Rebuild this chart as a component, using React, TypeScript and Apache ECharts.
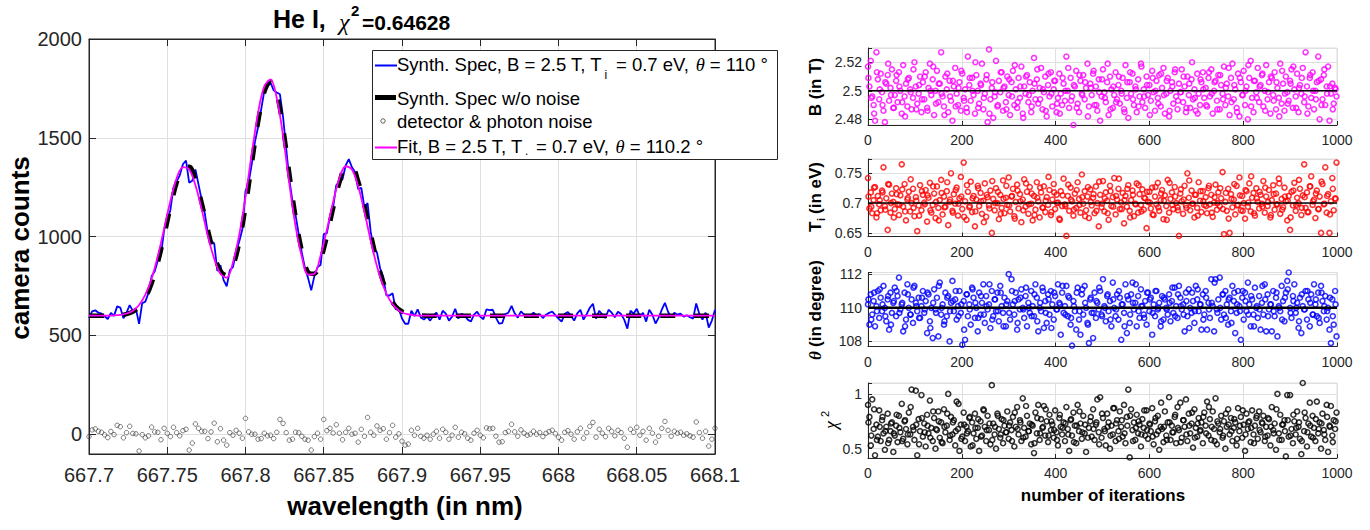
import React, { useEffect, useRef } from 'react';
import * as echarts from 'echarts';

// ---------------- Left panel: He I spectrum ----------------
const wlStart = 667.7;
const wlStep = 0.002; // detector pixel spacing (nm)

// synthetic spectrum with noise (camera counts), one value per pixel
const noisySpectrum = [
  588, 622, 627, 615, 610, 597, 583, 614, 599, 647,
  641, 587, 616, 653, 624, 633, 559, 663, 671, 715,
  799, 825, 879, 907, 1033, 1082, 1135, 1249, 1280, 1310,
  1366, 1385, 1273, 1283, 1340, 1263, 1186, 1118, 1012, 980,
  966, 826, 855, 780, 749, 830, 846, 925, 975, 1037,
  1230, 1272, 1367, 1478, 1553, 1643, 1736, 1762, 1780, 1740,
  1729, 1720, 1606, 1446, 1290, 1180, 1109, 1013, 918, 841,
  790, 728, 800, 845, 858, 1013, 1018, 1102, 1149, 1260,
  1278, 1290, 1360, 1392, 1351, 1327, 1240, 1247, 1147, 1170,
  1024, 938, 920, 840, 798, 703, 702, 713, 632, 634,
  586, 559, 559, 625, 598, 632, 591, 580, 595, 575,
  600, 615, 580, 625, 610, 575, 595, 635, 585, 610,
  602, 580, 570, 605, 620, 595, 582, 632, 628, 630,
  590, 560, 562, 608, 615, 650, 612, 590, 622, 605,
  595, 600, 615, 600, 608, 588, 605, 614, 620, 603,
  585, 570, 610, 618, 600, 575, 612, 630, 580, 608,
  640, 660, 585, 625, 605, 588, 630, 615, 592, 620,
  608, 580, 534, 625, 610, 635, 595, 615, 570, 630,
  605, 560, 590, 630, 665, 620, 590, 615, 605, 610,
  595, 602, 592, 585, 662, 608, 580, 615, 540, 575,
  630,
];

// detector & photon noise, one value per pixel
const detectorNoise = [
  -12, 22, 27, 15, 10, -3, -17, 14, -2, 45,
  38, -18, 8, 40, 4, 2, -85, -2, -18, -8,
  36, 12, 10, -28, 30, 5, -12, 35, 8, -8,
  18, 25, -80, -45, 52, 30, 15, 15, -22, 12,
  56, -38, 28, -30, -55, 8, -5, 20, 5, -20,
  80, 12, 0, 0, -25, -22, 5, -8, -5, -22,
  10, 75, 55, 8, -30, -25, 10, 8, -10, -25,
  -30, -80, -12, 5, -25, 75, 18, 30, 6, 48,
  5, -28, 10, 30, 0, 5, -40, 25, -10, 85,
  10, -5, 42, 20, 28, -25, 8, 45, -15, 2,
  -35, -55, -50, 20, -5, 30, -10, -20, -5, -25,
  0, 15, -20, 25, 10, -25, -5, 35, -15, 10,
  2, -20, -30, 5, 20, -5, -18, 32, 28, 30,
  -10, -40, -38, 8, 15, 50, 12, -10, 22, 5,
  -5, 0, 15, 0, 8, -12, 5, 14, 20, 3,
  -15, -30, 10, 18, 0, -25, 12, 30, -20, 8,
  40, 60, -15, 25, 5, -12, 30, 15, -8, 20,
  8, -20, -66, 25, 10, 35, -5, 15, -30, 30,
  5, -40, -10, 30, 65, 20, -10, 15, 5, 10,
  -5, 2, -8, -15, 62, 8, -20, 15, -60, -25,
  30,
];

// smooth curves (spectrum without noise and fit)
const smoothWavelength = [
  667.7, 667.712, 667.716,
  667.72, 667.724, 667.728, 667.732, 667.736, 667.74, 667.744, 667.748, 667.752, 667.756,
  667.76, 667.764, 667.768, 667.772, 667.776, 667.78, 667.784, 667.788, 667.792, 667.796,
  667.8, 667.804, 667.808, 667.812, 667.816, 667.82, 667.824, 667.828, 667.832, 667.836,
  667.84, 667.844, 667.848, 667.852, 667.856, 667.86, 667.864, 667.868, 667.872, 667.876,
  667.88, 667.884, 667.888, 667.892, 667.896, 667.9, 667.904, 667.908, 667.912, 667.916,
  668.1,
];
const spectrumNoNoise = [
  600, 600, 601,
  603, 608, 620, 644, 689, 763, 869, 1003, 1147, 1272,
  1348, 1353, 1288, 1171, 1034, 910, 827, 804, 851, 970,
  1150, 1367, 1578, 1731, 1785, 1719, 1551, 1320, 1099, 928,
  820, 812, 883, 1000, 1143, 1273, 1350, 1351, 1280, 1157,
  1014, 878, 770, 694, 647, 621, 609, 603, 601, 600,
  600,
];
const fitSpectrum = [
  600, 600, 601,
  604, 611, 625, 654, 706, 787, 902, 1040, 1180, 1295,
  1352, 1340, 1260, 1138, 1002, 888, 812, 792, 870, 1010,
  1200, 1420, 1625, 1760, 1795, 1700, 1510, 1268, 1052, 898,
  808, 812, 905, 1035, 1175, 1295, 1356, 1340, 1255, 1125,
  980, 850, 750, 681, 639, 616, 606, 602, 600, 600,
  600,
];

// ---------------- Right panels: 1000 fit iterations ----------------
// set A: iterations 0, 3, 6, ... ; set B: iterations 1, 7, 13, ...
const iterStepA = 3;
const iterStepB = 6;
const iterOffsetB = 1;

const fittedB = [
  2.517, 2.503, 2.521, 2.496, 2.490, 2.479, 2.527, 2.508, 2.494, 2.512, 2.499, 2.486, 2.478, 2.505, 2.511, 2.493, 2.502, 2.515, 2.488, 2.497,
  2.507, 2.492, 2.513, 2.500, 2.484, 2.518, 2.496, 2.505, 2.489, 2.509, 2.501, 2.487, 2.495, 2.520, 2.503, 2.491, 2.498, 2.510, 2.485, 2.506,
  2.494, 2.513, 2.488, 2.502, 2.519, 2.497, 2.508, 2.483, 2.500, 2.514, 2.492, 2.505, 2.527, 2.496, 2.489, 2.510, 2.501, 2.485, 2.507, 2.493,
  2.479, 2.503, 2.516, 2.498, 2.490, 2.506, 2.486, 2.512, 2.495, 2.501, 2.488, 2.524, 2.504, 2.493, 2.509, 2.497, 2.484, 2.511, 2.500, 2.491,
  2.505, 2.519, 2.487, 2.498, 2.508, 2.478, 2.529, 2.494, 2.502, 2.481, 2.496, 2.521, 2.489, 2.507, 2.499, 2.513, 2.486, 2.503, 2.492, 2.510,
  2.497, 2.483, 2.506, 2.514, 2.490, 2.501, 2.488, 2.509, 2.495, 2.517, 2.484, 2.503, 2.498, 2.511, 2.492, 2.506, 2.485, 2.500, 2.523, 2.494,
  2.508, 2.491, 2.502, 2.516, 2.487, 2.499, 2.510, 2.482, 2.504, 2.496, 2.513, 2.489, 2.501, 2.507, 2.485, 2.495, 2.512, 2.498, 2.490, 2.505,
  2.493, 2.524, 2.500, 2.488, 2.509, 2.496, 2.476, 2.503, 2.514, 2.491, 2.485, 2.507, 2.498, 2.511, 2.494, 2.502, 2.519, 2.489, 2.505, 2.497,
  2.512, 2.490, 2.503, 2.486, 2.508, 2.479, 2.496, 2.515, 2.499, 2.492, 2.506, 2.483, 2.510, 2.501, 2.488, 2.497, 2.513, 2.494, 2.504, 2.491,
  2.500, 2.509, 2.487, 2.518, 2.495, 2.481, 2.506, 2.498, 2.512, 2.490, 2.503, 2.485, 2.508, 2.496, 2.519, 2.492, 2.501, 2.488, 2.510, 2.497,
  2.504, 2.493, 2.514, 2.499, 2.486, 2.507, 2.495, 2.511, 2.489, 2.502, 2.516, 2.484, 2.498, 2.509, 2.482, 2.500, 2.506, 2.491, 2.513, 2.496,
  2.487, 2.505, 2.499, 2.515, 2.492, 2.503, 2.485, 2.510, 2.497, 2.488, 2.508, 2.494, 2.501, 2.486, 2.512, 2.498, 2.490, 2.506, 2.513, 2.495,
  2.502, 2.489, 2.509, 2.496, 2.515, 2.484, 2.500, 2.507, 2.493, 2.511, 2.487, 2.504, 2.498, 2.517, 2.490, 2.505, 2.496, 2.483, 2.509, 2.519,
  2.494, 2.501, 2.488, 2.512, 2.482, 2.506, 2.497, 2.514, 2.490, 2.503, 2.480, 2.509, 2.521, 2.495, 2.485, 2.507, 2.499, 2.516, 2.492, 2.504,
  2.511, 2.489, 2.500, 2.518, 2.494, 2.506, 2.484, 2.509, 2.497, 2.513, 2.487, 2.502, 2.495, 2.519, 2.491, 2.505, 2.486, 2.510, 2.499, 2.493,
  2.507, 2.515, 2.488, 2.501, 2.496, 2.512, 2.485, 2.504, 2.498, 2.516, 2.492, 2.527, 2.503, 2.489, 2.509, 2.495, 2.513, 2.487, 2.500, 2.506,
  2.524, 2.480, 2.508, 2.494, 2.511, 2.490, 2.503, 2.517, 2.479, 2.498, 2.505, 2.491, 2.502, 2.496,
];
const fittedB2 = [
  2.509, 2.495, 2.484, 2.513, 2.501, 2.490, 2.506, 2.519, 2.497, 2.488,
  2.511, 2.503, 2.492, 2.482, 2.508, 2.499, 2.515, 2.487, 2.504, 2.494,
  2.510, 2.486, 2.500, 2.517, 2.491, 2.505, 2.498, 2.483, 2.512, 2.496,
  2.507, 2.489, 2.502, 2.514, 2.493, 2.485, 2.509, 2.500, 2.520, 2.488,
  2.504, 2.495, 2.511, 2.484, 2.506, 2.499, 2.490, 2.513, 2.502, 2.487,
  2.508, 2.496, 2.518, 2.492, 2.503, 2.481, 2.510, 2.497, 2.489, 2.505,
  2.515, 2.494, 2.501, 2.486, 2.512, 2.498, 2.507, 2.491, 2.484, 2.509,
  2.500, 2.516, 2.493, 2.504, 2.488, 2.511, 2.497, 2.506, 2.482, 2.502,
  2.514, 2.490, 2.499, 2.508, 2.495, 2.519, 2.487, 2.503, 2.492, 2.510,
  2.498, 2.485, 2.506, 2.513, 2.494, 2.501, 2.489, 2.517, 2.496, 2.504,
  2.483, 2.509, 2.500, 2.491, 2.512, 2.497, 2.507, 2.486, 2.503, 2.515,
  2.493, 2.499, 2.510, 2.488, 2.505, 2.520, 2.495, 2.484, 2.508, 2.501,
  2.490, 2.513, 2.498, 2.506, 2.487, 2.511, 2.494, 2.502, 2.516, 2.492,
  2.504, 2.485, 2.509, 2.497, 2.500, 2.518, 2.489, 2.507, 2.495, 2.503,
  2.512, 2.486, 2.499, 2.510, 2.493, 2.506, 2.482, 2.514, 2.498, 2.491,
  2.505, 2.517, 2.488, 2.502, 2.509, 2.496, 2.484, 2.511, 2.500, 2.494,
  2.507, 2.490, 2.515, 2.498, 2.503, 2.487, 2.501,
];

const fittedTi = [
  0.742, 0.691, 0.718, 0.683, 0.705, 0.727, 0.676, 0.712, 0.698, 0.688, 0.721, 0.760, 0.695, 0.708, 0.655, 0.731, 0.684, 0.716, 0.702, 0.690,
  0.725, 0.698, 0.680, 0.713, 0.765, 0.694, 0.732, 0.671, 0.706, 0.719, 0.686, 0.700, 0.724, 0.678, 0.710, 0.653, 0.696, 0.730, 0.688, 0.714,
  0.701, 0.722, 0.669, 0.709, 0.734, 0.684, 0.697, 0.716, 0.675, 0.728, 0.692, 0.705, 0.739, 0.681, 0.711, 0.694, 0.720, 0.663, 0.702, 0.750,
  0.687, 0.715, 0.699, 0.726, 0.679, 0.708, 0.744, 0.690, 0.768, 0.703, 0.672, 0.719, 0.693, 0.736, 0.685, 0.712, 0.661, 0.706, 0.729, 0.695,
  0.717, 0.682, 0.704, 0.733, 0.677, 0.710, 0.696, 0.721, 0.650, 0.707, 0.688, 0.725, 0.700, 0.673, 0.714, 0.692, 0.738, 0.683, 0.709, 0.697,
  0.743, 0.686, 0.711, 0.724, 0.678, 0.702, 0.731, 0.691, 0.715, 0.668, 0.706, 0.740, 0.694, 0.719, 0.682, 0.727, 0.699, 0.671, 0.712, 0.689,
  0.735, 0.703, 0.676, 0.718, 0.693, 0.728, 0.685, 0.710, 0.697, 0.722, 0.680, 0.706, 0.732, 0.690, 0.714, 0.701, 0.674, 0.720, 0.695, 0.741,
  0.698, 0.645, 0.712, 0.687, 0.726, 0.703, 0.679, 0.716, 0.692, 0.735, 0.707, 0.684, 0.748, 0.699, 0.720, 0.688, 0.711, 0.675, 0.723, 0.696,
  0.709, 0.683, 0.728, 0.700, 0.661, 0.714, 0.693, 0.737, 0.686, 0.718, 0.704, 0.672, 0.729, 0.695, 0.710, 0.742, 0.681, 0.706, 0.724, 0.690,
  0.701, 0.717, 0.666, 0.712, 0.694, 0.730, 0.687, 0.705, 0.721, 0.678, 0.699, 0.733, 0.684, 0.715, 0.697, 0.723, 0.689, 0.708, 0.658, 0.702,
  0.719, 0.691, 0.726, 0.680, 0.711, 0.698, 0.734, 0.687, 0.705, 0.722, 0.673, 0.713, 0.695, 0.739, 0.684, 0.707, 0.718, 0.690, 0.727, 0.700,
  0.693, 0.645, 0.716, 0.703, 0.682, 0.729, 0.696, 0.750, 0.709, 0.688, 0.721, 0.699, 0.676, 0.714, 0.692, 0.735, 0.704, 0.685, 0.720, 0.697,
  0.710, 0.683, 0.725, 0.698, 0.714, 0.677, 0.701, 0.731, 0.689, 0.718, 0.695, 0.708, 0.752, 0.648, 0.702, 0.687, 0.724, 0.650, 0.715, 0.693,
  0.706, 0.681, 0.729, 0.697, 0.743, 0.688, 0.712, 0.700, 0.674, 0.720, 0.694, 0.733, 0.686, 0.709, 0.717, 0.679, 0.725, 0.702, 0.691, 0.714,
  0.699, 0.737, 0.684, 0.711, 0.695, 0.722, 0.676, 0.705, 0.730, 0.689, 0.716, 0.698, 0.741, 0.682, 0.707, 0.693, 0.726, 0.703, 0.671, 0.712,
  0.655, 0.719, 0.696, 0.734, 0.687, 0.709, 0.700, 0.724, 0.680, 0.713, 0.765, 0.692, 0.718, 0.685, 0.728, 0.745, 0.697, 0.706, 0.675, 0.721,
  0.690, 0.711, 0.650, 0.732, 0.698, 0.760, 0.684, 0.715, 0.650, 0.703, 0.742, 0.688, 0.708, 0.768,
];
const fittedTi2 = [
  0.711, 0.694, 0.726, 0.683, 0.705, 0.718, 0.689, 0.732, 0.700, 0.676,
  0.715, 0.697, 0.723, 0.686, 0.709, 0.740, 0.692, 0.704, 0.679, 0.720,
  0.698, 0.713, 0.688, 0.728, 0.702, 0.671, 0.717, 0.693, 0.735, 0.706,
  0.684, 0.722, 0.699, 0.711, 0.677, 0.730, 0.695, 0.708, 0.686, 0.725,
  0.703, 0.668, 0.714, 0.691, 0.737, 0.700, 0.719, 0.682, 0.707, 0.729,
  0.696, 0.712, 0.674, 0.721, 0.703, 0.688, 0.733, 0.698, 0.716, 0.680,
  0.709, 0.726, 0.692, 0.704, 0.744, 0.685, 0.718, 0.700, 0.672, 0.713,
  0.695, 0.731, 0.706, 0.689, 0.722, 0.697, 0.710, 0.678, 0.727, 0.702,
  0.715, 0.687, 0.736, 0.699, 0.708, 0.683, 0.720, 0.694, 0.712, 0.741,
  0.690, 0.705, 0.724, 0.676, 0.714, 0.698, 0.730, 0.686, 0.709, 0.719,
  0.701, 0.681, 0.727, 0.693, 0.716, 0.704, 0.672, 0.734, 0.697, 0.711,
  0.688, 0.723, 0.706, 0.692, 0.738, 0.699, 0.714, 0.679, 0.720, 0.703,
  0.695, 0.729, 0.684, 0.710, 0.700, 0.725, 0.690, 0.717, 0.674, 0.707,
  0.732, 0.696, 0.713, 0.687, 0.722, 0.701, 0.745, 0.683, 0.708, 0.719,
  0.694, 0.726, 0.702, 0.680, 0.715, 0.698, 0.733, 0.689, 0.711, 0.704,
  0.676, 0.721, 0.697, 0.739, 0.692, 0.710, 0.685, 0.728, 0.703, 0.716,
  0.690, 0.736, 0.699, 0.712, 0.681, 0.724, 0.707,
];

const fittedTheta = [
  110.2, 109.0, 110.8, 109.6, 110.4, 108.9, 110.1, 111.0, 109.4, 110.6, 109.8, 111.3, 110.0, 109.2, 110.5, 108.7, 110.9, 109.7, 110.3, 111.2,
  109.5, 110.7, 111.8, 109.9, 110.2, 108.6, 110.9, 109.3, 111.4, 110.0, 109.6, 110.5, 109.1, 111.3, 110.3, 109.8, 110.6, 109.4, 110.1, 111.0,
  109.7, 110.4, 108.5, 110.8, 109.2, 110.0, 108.2, 111.1, 109.9, 110.6, 108.3, 111.5, 109.6, 110.2, 109.0, 110.9, 109.5, 110.7, 108.0, 110.3,
  111.6, 109.8, 110.5, 109.3, 110.1, 111.0, 109.7, 107.8, 110.4, 108.1, 110.8, 109.5, 110.2, 109.0, 111.2, 110.6, 109.4, 110.0, 108.6, 110.9,
  109.6, 110.3, 111.4, 109.1, 110.7, 109.9, 110.2, 108.8, 111.0, 109.5, 110.5, 109.8, 110.9, 109.2, 111.3, 110.1, 109.7, 110.6, 108.9, 110.4,
  112.0, 109.3, 111.7, 110.2, 109.6, 110.9, 108.7, 110.5, 109.9, 111.1, 110.0, 109.4, 110.7, 108.9, 110.3, 109.7, 111.0, 110.1, 109.5, 111.4,
  110.6, 108.6, 110.0, 109.8, 111.2, 108.8, 110.4, 109.1, 110.8, 109.6, 111.0, 110.2, 109.3, 110.7, 109.9, 111.4, 110.3, 108.4, 110.9, 109.7,
  110.1, 111.3, 109.5, 110.6, 109.0, 107.75, 110.4, 109.8, 108.7, 111.2, 109.3, 108.4, 110.8, 109.6, 111.3, 110.0, 109.1, 107.9, 110.5, 109.7,
  108.2, 110.9, 109.4, 110.3, 109.9, 111.0, 109.6, 111.7, 110.1, 109.2, 110.7, 109.8, 110.4, 108.9, 111.5, 110.0, 109.5, 110.8, 109.3, 110.6,
  108.1, 110.2, 109.7, 111.4, 108.5, 110.5, 109.1, 110.8, 111.5, 109.9, 110.3, 108.9, 110.7, 109.4, 111.1, 110.1, 109.6, 110.4, 109.0, 110.9,
  109.8, 110.6, 108.4, 110.2, 109.5, 111.0, 109.9, 110.3, 108.9, 110.7, 109.3, 110.5, 110.0, 109.6, 110.8, 109.2, 110.4, 109.7, 111.2, 110.1,
  109.4, 111.3, 110.6, 109.9, 110.2, 108.6, 110.9, 109.5, 111.1, 110.0, 109.7, 110.4, 109.1, 111.3, 110.5, 109.8, 110.2, 108.7, 110.8, 109.6,
  111.0, 108.7, 110.3, 109.4, 111.7, 110.1, 108.6, 111.7, 109.9, 110.5, 111.8, 109.3, 110.8, 109.6, 111.0, 110.2, 109.0, 110.6, 109.8, 111.3,
  110.4, 108.5, 109.7, 111.0, 110.1, 108.1, 110.6, 109.3, 110.9, 109.8, 111.5, 110.2, 108.9, 110.5, 109.6, 111.2, 110.0, 109.4, 110.7, 108.7,
  110.3, 109.6, 111.4, 108.6, 110.8, 109.9, 110.2, 108.6, 111.0, 109.5, 110.6, 108.3, 110.1, 109.8, 111.3, 110.4, 109.2, 110.9, 111.6, 112.1,
  110.0, 109.4, 110.7, 111.4, 109.7, 110.3, 108.8, 110.6, 108.5, 110.1, 109.9, 111.0, 109.3, 110.5, 108.9, 110.8, 109.6, 111.4, 110.2, 109.5,
  110.9, 109.1, 111.3, 110.4, 109.8, 110.7, 109.3, 110.0, 108.7, 107.9, 110.5, 109.0, 111.0, 108.3,
];
const fittedTheta2 = [
  110.5, 109.3, 110.9, 109.8, 111.1, 110.2, 109.5, 110.7, 109.0, 110.4,
  111.0, 109.7, 110.3, 108.9, 110.8, 109.6, 111.2, 110.1, 109.4, 110.6,
  109.9, 110.9, 108.8, 110.3, 109.7, 111.3, 110.0, 109.2, 110.6, 109.8,
  110.4, 111.0, 109.5, 110.2, 108.7, 110.8, 109.9, 111.1, 110.3, 109.4,
  110.7, 109.6, 110.1, 111.4, 109.3, 110.5, 109.8, 110.9, 108.9, 110.2,
  109.7, 111.0, 110.4, 109.1, 110.6, 109.9, 111.2, 110.0, 109.5, 110.8,
  109.2, 110.3, 111.0, 109.7, 110.5, 108.8, 110.9, 109.9, 110.2, 111.3,
  109.6, 110.7, 109.4, 110.1, 110.9, 109.8, 111.1, 110.3, 109.0, 110.6,
  109.7, 110.4, 111.2, 109.5, 110.0, 110.8, 109.3, 110.5, 109.9, 111.0,
  110.2, 108.9, 110.7, 109.6, 110.3, 111.4, 109.8, 110.1, 109.4, 110.9,
  110.5, 109.7, 111.0, 110.0, 109.2, 110.6, 109.9, 110.3, 111.2, 109.5,
  110.8, 110.1, 109.6, 110.4, 108.8, 110.9, 109.8, 111.1, 110.2, 109.3,
  110.6, 109.9, 110.3, 111.5, 109.7, 110.0, 110.8, 109.4, 110.5, 109.1,
  110.9, 110.2, 109.8, 111.0, 110.4, 109.6, 110.7, 108.9, 110.1, 109.9,
  111.3, 110.5, 109.5, 110.2, 109.8, 110.9, 110.0, 109.3, 110.6, 111.1,
  109.7, 110.4, 110.0, 109.2, 110.8, 109.9, 111.0, 110.3, 109.6, 110.5,
  109.4, 110.9, 110.1, 109.8, 110.6, 109.5, 110.2,
];

const fittedChi2 = [
  0.90, 0.79, 0.53, 0.95, 0.68, 0.44, 0.72, 0.61, 0.85, 0.57, 0.76, 0.64, 0.49, 0.70, 0.82, 0.58, 0.66, 0.74, 0.47, 0.62,
  0.71, 0.56, 0.80, 0.65, 0.91, 0.59, 0.75, 0.68, 0.54, 0.83, 0.63, 1.04, 0.70, 0.58, 1.03, 0.44, 0.77, 0.66, 0.99, 0.61,
  0.73, 0.52, 0.81, 0.64, 0.94, 0.69, 0.57, 0.78, 0.50, 0.67, 0.84, 0.60, 0.74, 0.55, 0.86, 0.65, 0.71, 1.00, 0.58, 0.79,
  0.63, 0.76, 0.53, 0.93, 0.68, 0.48, 0.72, 0.61, 0.83, 0.57, 0.70, 0.66, 0.78, 0.52, 0.74, 0.64, 0.82, 0.59, 0.69, 0.48,
  0.75, 0.62, 0.86, 0.70, 0.57, 0.80, 0.67, 0.54, 1.08, 0.73, 0.63, 0.50, 0.82, 0.68, 0.60, 0.77, 0.55, 0.71, 0.65, 0.84,
  0.59, 0.74, 0.67, 0.79, 0.52, 0.70, 0.88, 0.63, 0.76, 0.57, 0.96, 0.69, 0.61, 0.80, 0.66, 0.73, 0.54, 0.71, 0.46, 0.83,
  0.64, 0.90, 0.58, 0.77, 0.69, 0.89, 0.62, 0.75, 0.56, 0.81, 0.67, 0.72, 0.60, 0.85, 0.65, 0.53, 0.78, 0.70, 0.63, 0.74,
  0.57, 0.88, 0.68, 0.48, 0.76, 0.62, 0.83, 0.71, 0.55, 0.90, 0.66, 0.73, 0.59, 0.80, 0.64, 0.47, 0.40, 0.69, 0.75, 0.61,
  0.86, 0.58, 0.72, 0.95, 0.65, 0.97, 0.60, 0.78, 0.68, 0.53, 0.82, 0.74, 0.50, 0.71, 0.63, 0.87, 0.57, 0.76, 0.66, 0.84,
  0.70, 0.61, 0.90, 0.55, 0.79, 1.04, 0.42, 0.86, 0.67, 0.74, 0.58, 0.81, 0.64, 0.72, 0.52, 0.77, 0.69, 0.62, 0.85, 0.59,
  0.73, 0.66, 0.87, 0.54, 0.75, 0.63, 0.80, 0.49, 0.70, 0.68, 0.56, 0.84, 0.62, 0.74, 0.97, 0.58, 0.71, 0.65, 0.79, 0.55,
  0.88, 0.67, 0.92, 0.60, 0.76, 0.70, 0.95, 0.57, 0.82, 0.64, 0.73, 0.51, 0.86, 0.69, 0.61, 0.78, 0.66, 0.74, 0.55, 0.83,
  0.71, 0.93, 0.62, 0.77, 0.58, 0.84, 0.68, 0.96, 0.54, 0.73, 0.65, 0.80, 0.60, 0.75, 0.50, 0.70, 0.86, 0.63, 0.78, 0.57,
  0.69, 0.74, 0.53, 0.87, 0.66, 0.79, 0.60, 0.72, 0.48, 0.82, 0.68, 0.75, 0.56, 0.85, 0.63, 0.71, 0.78, 0.59, 0.84, 0.65,
  0.74, 0.80, 0.57, 0.70, 0.62, 0.77, 0.53, 0.88, 0.67, 0.73, 0.49, 1.00, 0.64, 0.81, 0.58, 0.72, 0.76, 0.43, 0.99, 0.61,
  0.99, 0.68, 0.55, 0.75, 0.63, 0.84, 0.70, 0.59, 0.45, 1.10, 0.66, 0.78, 0.52, 0.73, 0.92, 0.61, 0.80, 0.69, 0.57, 0.93,
  0.64, 0.74, 0.50, 0.82, 0.67, 0.58, 0.90, 0.47, 0.71, 0.89, 0.62, 0.76, 0.68, 0.83,
];
const fittedChi2b = [
  0.74, 0.62, 0.86, 0.58, 0.70, 0.79, 0.66, 0.55, 0.73, 0.64,
  0.81, 0.69, 0.57, 0.76, 0.63, 0.88, 0.67, 0.72, 0.54, 0.78,
  0.65, 0.71, 0.60, 0.84, 0.68, 0.75, 0.56, 0.70, 0.82, 0.62,
  0.74, 0.66, 0.91, 0.59, 0.72, 0.64, 0.79, 0.53, 0.69, 0.77,
  0.61, 0.85, 0.67, 0.73, 0.58, 0.70, 0.80, 0.63, 0.76, 0.65,
  0.71, 0.57, 0.83, 0.68, 0.74, 0.60, 0.89, 0.66, 0.72, 0.55,
  0.78, 0.64, 0.70, 0.86, 0.62, 0.75, 0.67, 0.58, 0.81, 0.69,
  0.73, 0.63, 0.77, 0.56, 0.71, 0.84, 0.65, 0.72, 0.60, 0.79,
  0.68, 0.74, 0.54, 0.82, 0.66, 0.70, 0.62, 0.87, 0.73, 0.59,
  0.76, 0.64, 0.71, 0.80, 0.57, 0.69, 0.75, 0.63, 0.85, 0.67,
  0.72, 0.61, 0.78, 0.66, 0.92, 0.70, 0.58, 0.74, 0.65, 0.81,
  0.69, 0.56, 0.76, 0.63, 0.71, 0.83, 0.60, 0.73, 0.67, 0.79,
  0.64, 0.88, 0.70, 0.57, 0.75, 0.68, 0.62, 0.82, 0.72, 0.66,
  0.77, 0.59, 0.71, 0.85, 0.63, 0.74, 0.69, 0.55, 0.80, 0.67,
  0.73, 0.61, 0.78, 0.70, 0.64, 0.86, 0.58, 0.72, 0.66, 0.76,
  0.62, 0.81, 0.69, 0.74, 0.57, 0.83, 0.65, 0.71, 0.60, 0.77,
  0.68, 0.73, 0.63, 0.79, 0.70, 0.56, 0.75,
];

// true (input) values drawn as horizontal reference lines
const trueB = 2.5;
const trueTi = 0.7;
const trueTheta = 110;
const iterRange = [0, 1000];

// ---------------- styling ----------------
const SANS = '"Liberation Sans", Arial, Helvetica, sans-serif';
const SERIF = '"Liberation Serif", "Times New Roman", serif';
const INK = '#262626';
const GRID_C = '#dfdfdf';

const fmtStep = (step: number, dec: number) => (v: number) => {
  const q = v / step;
  return Math.abs(q - Math.round(q)) < 1e-6 ? String(+v.toFixed(dec)) : '';
};

function txt(
  x: number, y: number, text: string,
  o: { size: number; bold?: boolean; italic?: boolean; serif?: boolean; align?: string; rot?: number; fill?: string }
) {
  const align = o.align || 'left';
  return {
    type: 'text', x, y, rotation: o.rot || 0, z: 100, silent: true,
    style: {
      text, fill: o.fill || '#000',
      fontSize: o.size, fontWeight: o.bold ? 'bold' : 'normal',
      fontStyle: o.italic ? 'italic' : 'normal',
      fontFamily: o.serif ? SERIF : SANS,
      align, textAlign: align, verticalAlign: 'middle', textVerticalAlign: 'middle',
    },
  };
}

function buildOption() {
  const noisyData = noisySpectrum.map((v, i) => [wlStart + i * wlStep, v]);
  const noiseData = detectorNoise.map((v, i) => [wlStart + i * wlStep, v]);
  const trueData = smoothWavelength.map((w, i) => [w, spectrumNoNoise[i]]);
  const fitData = smoothWavelength.map((w, i) => [w, fitSpectrum[i]]);

  const panels = [
    { a: fittedB, b: fittedB2, color: '#ff00ff', min: 2.476, max: 2.53, split: 3, step: 0.02, dec: 2, ref: trueB, refW: 1.5 },
    { a: fittedTi, b: fittedTi2, color: '#ff0000', min: 0.644, max: 0.774, split: 3, step: 0.05, dec: 2, ref: trueTi, refW: 1.5 },
    { a: fittedTheta, b: fittedTheta2, color: '#0000ff', min: 107.7, max: 112.1, split: 2, step: 2, dec: 0, ref: trueTheta, refW: 2.5 },
    { a: fittedChi2, b: fittedChi2b, color: '#000000', min: 0.415, max: 1.1, split: 1, step: 0.5, dec: 1, ref: null as number | null, refW: 0 },
  ];
  const panelTops = [48, 159, 272.5, 383];
  const panelHeights = [77, 77.5, 74, 75];

  const grid: any[] = [
    { left: 89, top: 39, width: 626, height: 415, show: true, borderColor: INK, borderWidth: 1, backgroundColor: '#fff' },
  ];
  panels.forEach((_, k) => grid.push({
    left: 868, top: panelTops[k], width: 469, height: panelHeights[k],
    show: true, borderColor: GRID_C, borderWidth: 1, backgroundColor: '#fff',
  }));

  const xAxis: any[] = [
    {
      gridIndex: 0, type: 'value', position: 'bottom', min: 667.7, max: 668.1, interval: 0.05,
      axisLine: { show: true, onZero: false, lineStyle: { color: INK, width: 1 } },
      axisTick: { show: true, inside: true, length: 7, lineStyle: { color: INK } },
      axisLabel: { fontSize: 20, color: INK, fontFamily: SANS, margin: 11, formatter: (v: number) => String(+v.toFixed(2)) },
      splitLine: { show: true, lineStyle: { color: GRID_C, width: 1 } },
    },
    {
      gridIndex: 0, type: 'value', position: 'top', min: 667.7, max: 668.1, interval: 0.05,
      axisLine: { show: true, onZero: false, lineStyle: { color: INK, width: 1 } },
      axisTick: { show: true, inside: true, length: 7, lineStyle: { color: INK } },
      axisLabel: { show: false }, splitLine: { show: false },
    },
  ];
  const yAxis: any[] = [
    {
      gridIndex: 0, type: 'value', position: 'left', min: -100, max: 2000, splitNumber: 5,
      axisLine: { show: true, onZero: false, lineStyle: { color: INK, width: 1 } },
      axisTick: { show: true, inside: true, length: 7, lineStyle: { color: INK } },
      axisLabel: { fontSize: 20, color: INK, fontFamily: SANS, margin: 7, formatter: fmtStep(500, 0) },
      splitLine: { show: true, lineStyle: { color: GRID_C, width: 1 } },
    },
    {
      gridIndex: 0, type: 'value', position: 'right', min: -100, max: 2000, splitNumber: 5,
      axisLine: { show: true, onZero: false, lineStyle: { color: INK, width: 1 } },
      axisTick: { show: true, inside: true, length: 7, lineStyle: { color: INK } },
      axisLabel: { show: false }, splitLine: { show: false },
    },
  ];

  panels.forEach((p, k) => {
    xAxis.push({
      gridIndex: k + 1, type: 'value', position: 'bottom', min: iterRange[0], max: iterRange[1], interval: 200,
      axisLine: { show: true, onZero: false, lineStyle: { color: INK, width: 1 } },
      axisTick: { show: true, inside: true, length: 4, lineStyle: { color: INK } },
      axisLabel: { fontSize: 14, color: INK, fontFamily: SANS, margin: 8, formatter: (v: number) => String(v) },
      splitLine: { show: true, lineStyle: { color: GRID_C, width: 1 } },
    });
    yAxis.push({
      gridIndex: k + 1, type: 'value', position: 'left', min: p.min, max: p.max, splitNumber: p.split,
      axisLine: { show: true, onZero: false, lineStyle: { color: INK, width: 1 } },
      axisTick: { show: true, inside: true, length: 4, lineStyle: { color: INK } },
      axisLabel: { fontSize: 14, color: INK, fontFamily: SANS, margin: 6, formatter: fmtStep(p.step, p.dec) },
      splitLine: { show: true, lineStyle: { color: GRID_C, width: 1 } },
    });
  });

  const series: any[] = [
    {
      type: 'line', xAxisIndex: 0, yAxisIndex: 0, data: noisyData, showSymbol: false, symbol: 'none',
      lineStyle: { color: '#0000ff', width: 1.8 }, z: 2, silent: true,
    },
    {
      type: 'line', xAxisIndex: 0, yAxisIndex: 0, data: trueData, showSymbol: false, symbol: 'none',
      smooth: 0.35, lineStyle: { color: '#000000', width: 4.5, type: [15, 19] }, z: 3, silent: true,
    },
    {
      type: 'scatter', xAxisIndex: 0, yAxisIndex: 0, data: noiseData, symbol: 'circle', symbolSize: 4.5,
      itemStyle: { color: 'rgba(0,0,0,0)', borderColor: '#333333', borderWidth: 0.8 }, z: 3, silent: true,
    },
    {
      type: 'line', xAxisIndex: 0, yAxisIndex: 0, data: fitData, showSymbol: false, symbol: 'none',
      smooth: 0.35, lineStyle: { color: '#ff00ff', width: 1.8 }, z: 4, silent: true,
    },
  ];

  panels.forEach((p, k) => {
    const pts = p.a.map((v, j) => [j * iterStepA, v])
      .concat(p.b.map((v, j) => [j * iterStepB + iterOffsetB, v]));
    series.push({
      type: 'scatter', xAxisIndex: k + 2, yAxisIndex: k + 2,
      data: pts, symbol: 'circle', symbolSize: 5,
      itemStyle: { color: 'rgba(0,0,0,0)', borderColor: p.color, borderWidth: 1.6 },
      z: 2, silent: true, large: false,
    });
    if (p.ref !== null) {
      series.push({
        type: 'line', xAxisIndex: k + 2, yAxisIndex: k + 2,
        data: [[iterRange[0], p.ref], [iterRange[1], p.ref]],
        showSymbol: false, symbol: 'none', lineStyle: { color: '#000000', width: p.refW }, z: 5, silent: true,
      });
    }
  });

  const legendFs = 18.5;
  const graphic: any[] = [
    // title
    txt(273, 19, 'He I,', { size: 25, bold: true }),
    txt(339, 22, 'χ', { size: 24, italic: true, serif: true }),
    txt(351, 10, '2', { size: 15, bold: true }),
    txt(362, 22, '=0.64628', { size: 21, bold: true }),
    // left axis titles
    txt(20, 248, 'camera counts', { size: 26, bold: true, align: 'center', rot: Math.PI / 2 }),
    txt(405, 506, 'wavelength (in nm)', { size: 26, bold: true, align: 'center' }),
    // legend box
    {
      type: 'rect', z: 90, silent: true,
      shape: { x: 372.5, y: 50.5, width: 405, height: 109 },
      style: { fill: '#ffffff', stroke: INK, lineWidth: 1 },
    },
    { type: 'line', z: 100, silent: true, shape: { x1: 375, y1: 65.5, x2: 397, y2: 65.5 }, style: { stroke: '#0000ff', lineWidth: 2 } },
    { type: 'line', z: 100, silent: true, shape: { x1: 375, y1: 97.5, x2: 396, y2: 97.5 }, style: { stroke: '#000000', lineWidth: 5 } },
    { type: 'circle', z: 100, silent: true, shape: { cx: 383, cy: 121, r: 2.2 }, style: { fill: 'none', stroke: '#333333', lineWidth: 0.8 } },
    { type: 'line', z: 100, silent: true, shape: { x1: 375, y1: 147.5, x2: 397, y2: 147.5 }, style: { stroke: '#ff00ff', lineWidth: 2 } },
    txt(397, 64.5, 'Synth. Spec, B = 2.5 T, T', { size: legendFs }),
    txt(604.5, 75, 'i', { size: 12 }),
    txt(616, 64.5, '= 0.7 eV,', { size: legendFs }),
    txt(695.7, 64.5, 'θ', { size: legendFs, italic: true, serif: true }),
    txt(709.8, 64.5, '= 110 °', { size: legendFs }),
    txt(397, 98, 'Synth. Spec w/o noise', { size: legendFs }),
    txt(397, 121, 'detector & photon noise', { size: legendFs }),
    txt(397, 146.5, 'Fit, B = 2.5 T, T', { size: legendFs }),
    txt(525, 151, '.', { size: 12 }),
    txt(536, 146.5, '= 0.7 eV,', { size: legendFs }),
    txt(615.6, 146.5, 'θ', { size: legendFs, italic: true, serif: true }),
    txt(629.7, 146.5, '= 110.2 °', { size: legendFs }),
    // right panel y titles
    txt(815, 87, 'B (in T)', { size: 17, bold: true, align: 'center', rot: Math.PI / 2 }),
    txt(815, 232, 'T', { size: 17, bold: true, rot: Math.PI / 2 }),
    txt(821, 221, 'i', { size: 11, bold: true, rot: Math.PI / 2 }),
    txt(815, 214, '(in eV)', { size: 17, bold: true, rot: Math.PI / 2 }),
    txt(815, 360, 'θ', { size: 17, italic: true, serif: true, bold: true, rot: Math.PI / 2 }),
    txt(815, 347, '(in degree)', { size: 17, bold: true, rot: Math.PI / 2 }),
    txt(831, 425, 'χ', { size: 18, italic: true, serif: true, align: 'center', rot: Math.PI / 2 }),
    txt(825, 414, '2', { size: 11, align: 'center', rot: Math.PI / 2 }),
    txt(1103, 495, 'number of iterations', { size: 17, bold: true, align: 'center' }),
  ];

  return { animation: false, backgroundColor: '#ffffff', grid, xAxis, yAxis, series, graphic };
}

export default function App() {
  const ref = useRef<HTMLDivElement>(null);
  useEffect(() => {
    const chart = echarts.init(ref.current!, undefined, { renderer: 'svg' });
    chart.setOption(buildOption() as any);
    return () => chart.dispose();
  }, []);
  return (
    <div
      ref={ref}
      style={{ position: 'absolute', left: 0, top: 0, width: 1370, height: 530, background: '#fff' }}
    />
  );
}
